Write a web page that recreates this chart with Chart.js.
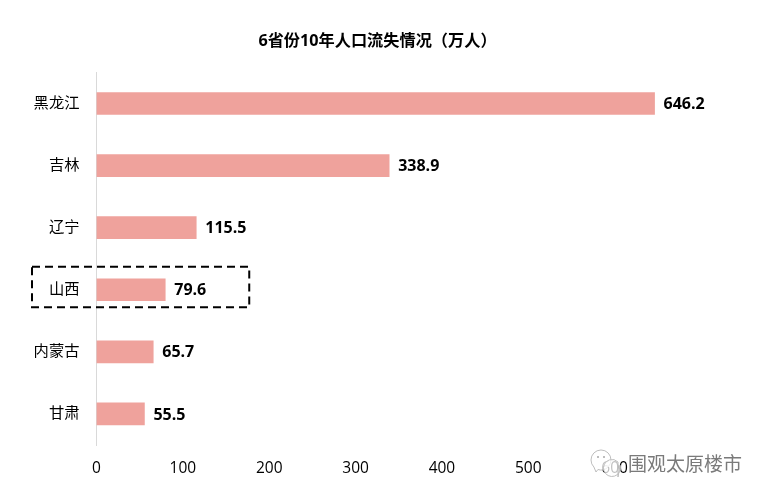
<!DOCTYPE html>
<html>
<head>
<meta charset="utf-8">
<title>6省份10年人口流失情况</title>
<script src="https://cdn.jsdelivr.net/npm/chart.js@4"></script>
<style>
    html, body { margin: 0; padding: 0; background: #fff; }
    canvas { display: block; }
</style>
</head>
<body>
<canvas id="lossChart" width="766" height="497"></canvas>
<script>
const provinces = ['黑龙江', '吉林', '辽宁', '山西', '内蒙古', '甘肃'];
const lossValues = [646.2, 338.9, 115.5, 79.6, 65.7, 55.5];
const tickValues = [0, 100, 200, 300, 400, 500, 600];
const highlighted = '山西';
const chartTitle = '6省份10年人口流失情况（万人）';
const watermark = '围观太原楼市';

const FONT = '"Open Sans", "Noto Sans CJK SC", sans-serif';

// Value labels at the end of each bar
const valueLabels = {
    id: 'valueLabels',
    afterDatasetsDraw(chart) {
        const ctx = chart.ctx;
        ctx.save();
        ctx.font = 'bold 16px ' + FONT;
        ctx.fillStyle = '#000';
        ctx.textBaseline = 'middle';
        chart.getDatasetMeta(0).data.forEach((bar, i) => {
            ctx.fillText(lossValues[i].toFixed(1), bar.x + 9, bar.y + 1);
        });
        ctx.restore();
    }
};

// Dashed box around the highlighted province
const highlightBox = {
    id: 'highlightBox',
    afterDraw(chart) {
        const ctx = chart.ctx;
        const cx = chart.scales.x;
        const index = provinces.indexOf(highlighted);
        const cy = chart.scales.y.getPixelForValue(index);
        const left = cx.getPixelForValue(0) - 64.5;
        const right = cx.getPixelForValue(lossValues[index]) + 84;
        ctx.save();
        ctx.strokeStyle = '#000';
        ctx.lineWidth = 2;
        ctx.setLineDash([8, 5]);
        ctx.strokeRect(left, cy - 23, right - left, 40.5);
        ctx.restore();
    }
};

// Account watermark in the bottom right corner
const accountMark = {
    id: 'accountMark',
    afterDraw(chart) {
        const ctx = chart.ctx;
        ctx.save();
        ctx.lineWidth = 1;
        ctx.strokeStyle = '#bdbdbd';
        ctx.fillStyle = 'rgba(255,255,255,0.75)';
        // big bubble with its tail
        ctx.beginPath();
        ctx.arc(601, 460, 10, 0.75 * Math.PI, 2.6 * Math.PI);
        ctx.lineTo(596, 472);
        ctx.closePath();
        ctx.fill();
        ctx.stroke();
        // small bubble with its tail
        ctx.beginPath();
        ctx.arc(612, 468, 8.5, -0.1 * Math.PI, 1.75 * Math.PI);
        ctx.lineTo(618, 477);
        ctx.closePath();
        ctx.fill();
        ctx.stroke();
        ctx.fillStyle = '#bdbdbd';
        ctx.fillRect(597, 456, 2, 2);
        ctx.fillRect(603, 456, 2, 2);
        ctx.font = '19px "Noto Sans CJK SC", sans-serif';
        ctx.textBaseline = 'middle';
        ctx.lineWidth = 2.5;
        ctx.strokeStyle = 'rgba(255,255,255,0.9)';
        ctx.strokeText(watermark, 628, 464);
        ctx.fillStyle = '#7a7a7a';
        ctx.fillText(watermark, 628, 464);
        ctx.restore();
    }
};

new Chart(document.getElementById('lossChart').getContext('2d'), {
    type: 'bar',
    data: {
        labels: provinces,
        datasets: [{
            data: lossValues,
            backgroundColor: '#EFA29C',
            barThickness: 22
        }]
    },
    options: {
        indexAxis: 'y',
        responsive: false,
        animation: false,
        devicePixelRatio: 1,
        layout: { padding: { top: 32, right: 11, bottom: 0, left: 0 } },
        plugins: {
            legend: { display: false },
            tooltip: { enabled: false },
            title: {
                display: true,
                text: chartTitle,
                color: '#000',
                font: { family: FONT, size: 16.2, weight: 'bold' },
                padding: { top: 0, bottom: 21 }
            }
        },
        scales: {
            x: {
                min: 0,
                max: 762.5,
                afterBuildTicks(axis) {
                    axis.ticks = tickValues.map(v => ({ value: v }));
                },
                afterFit(axis) { axis.height = 52; },
                grid: { display: false },
                border: { display: false },
                ticks: {
                    color: '#000',
                    font: { family: FONT, size: 15.5 },
                    maxRotation: 0,
                    padding: 6
                }
            },
            y: {
                afterFit(axis) { axis.width = 96.5; },
                grid: { display: false },
                border: { display: true, color: '#d9d9d9', width: 1 },
                ticks: {
                    color: '#000',
                    font: { family: FONT, size: 15.3 },
                    padding: 9
                }
            }
        }
    },
    plugins: [valueLabels, highlightBox, accountMark]
});
</script>
</body>
</html>
